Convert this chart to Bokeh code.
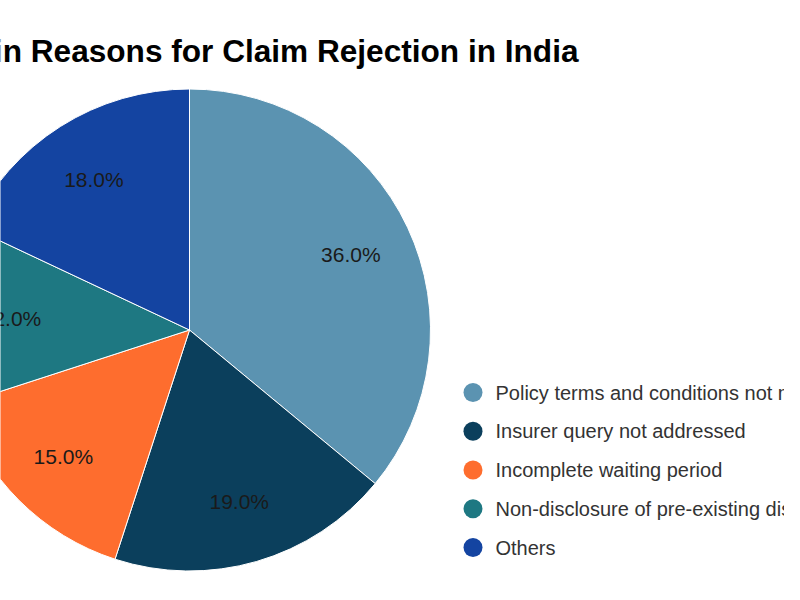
import numpy as np
from bokeh.plotting import figure
from bokeh.models import ColumnDataSource, Range1d
from bokeh.core.properties import value
from bokeh.embed import file_html
from bokeh.resources import INLINE

# Data
reasons = [
    "Policy terms and conditions not met",
    "Insurer query not addressed",
    "Incomplete waiting period",
    "Non-disclosure of pre-existing diseases",
    "Others",
]
shares = [36.0, 19.0, 15.0, 12.0, 18.0]
colors = ["#5b93b1", "#0b3f5c", "#fe6d2e", "#1e7882", "#1444a1"]
title_text = "Main Reasons for Claim Rejection in India"

# Layout (window pixels, y measured from the top)
W, H = 784, 584
CX, CY, R = 189, 329.5, 241
LABEL_R = 0.74 * R
LEG_X, LEG_Y0, LEG_STEP = 472.5, 392, 38.75
FONT = "Liberation Sans"


def fy(top):
    # top-based pixel position -> data y of the figure
    return 600 - top


# Wedges, clockwise from 12 o'clock
frac = np.array(shares) / sum(shares)
cum = np.concatenate([[0], np.cumsum(frac)])
start = np.pi / 2 - 2 * np.pi * cum[1:]
end = np.pi / 2 - 2 * np.pi * cum[:-1]
mid = (start + end) / 2

pie = ColumnDataSource(data=dict(
    reason=reasons,
    share=shares,
    color=colors,
    start=start,
    end=end,
    lx=CX + LABEL_R * np.cos(mid),
    ly=fy(CY) + LABEL_R * np.sin(mid),
    label=[f"{s:.1f}%" for s in shares],
))

legend = ColumnDataSource(data=dict(
    reason=reasons,
    color=colors,
    x=[LEG_X] * len(reasons),
    y=[fy(LEG_Y0 + i * LEG_STEP) for i in range(len(reasons))],
    tx=[LEG_X + 22.5] * len(reasons),
))

p = figure(width=W, height=H, x_range=Range1d(0, W), y_range=Range1d(600 - H, 600),
           x_axis_type=None, y_axis_type=None, toolbar_location=None, tools="",
           output_backend="svg", min_border=0)
p.grid.visible = False
p.outline_line_color = None
p.background_fill_color = "white"
p.border_fill_color = "white"

p.wedge(x=CX, y=fy(CY), radius=R, start_angle="start", end_angle="end",
        fill_color="color", line_color="white", line_width=1, source=pie)

p.text(x="lx", y="ly", text="label", source=pie, text_align="center", text_baseline="middle",
       text_font=value(FONT), text_font_size="21px", text_color="#1a1a1a")

# Legend
p.scatter(x="x", y="y", size=19, marker="circle", fill_color="color", line_color=None, source=legend)
p.text(x="tx", y="y", text="reason", source=legend, text_align="left", text_baseline="middle",
       text_font=value(FONT), text_font_size="20px", text_color="#333333")

# Title (right end anchored, cropped at the left like the reference)
p.text(x=[578], y=[fy(50)], text=[title_text], text_align="right", text_baseline="middle",
       text_font=value(FONT), text_font_size="31.6px", text_font_style="bold", text_color="#000000")

open("out.html", "w").write(file_html(p, INLINE))
